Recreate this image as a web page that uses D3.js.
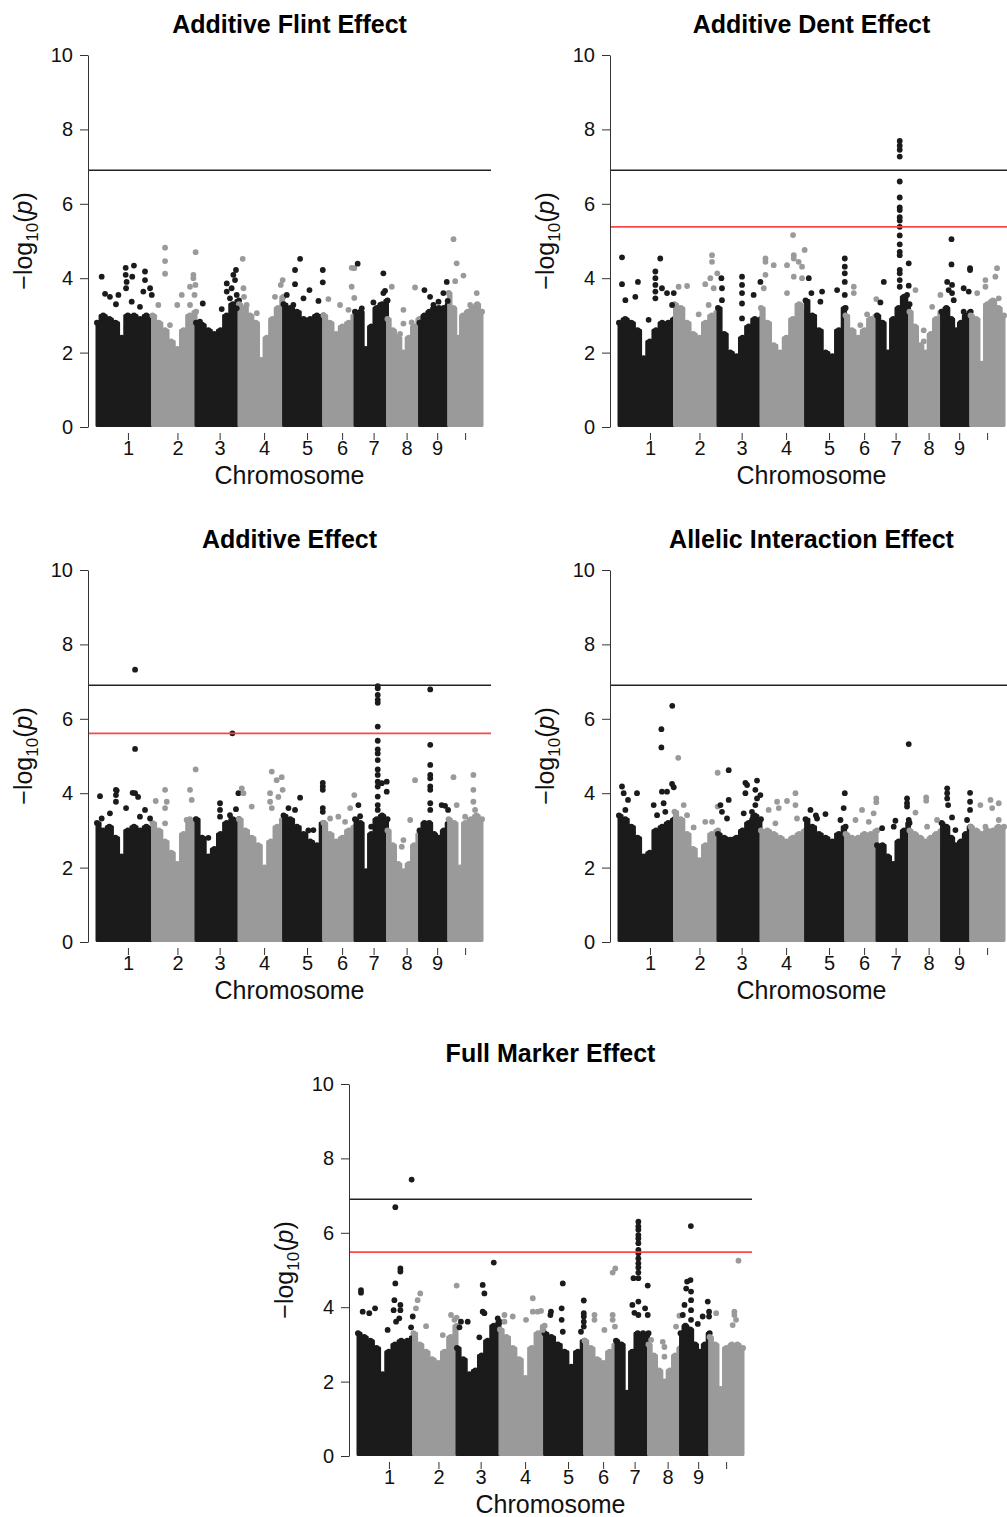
<!DOCTYPE html>
<html>
<head>
<meta charset="utf-8">
<script src="https://cdn.jsdelivr.net/npm/d3@7"></script>
<style>
  body { margin: 0; background: #fff; }
  text { font-family: "Liberation Sans", Arial, Helvetica, sans-serif; }
</style>
</head>
<body>
<script>
// chromosome layout (Mb)
var chrLabels = ["1", "2", "3", "4", "5", "6", "7", "8", "9", ""];
var chrLen = [296, 232, 229, 238, 213, 168, 173, 171, 155, 178];
var chrTick = [165, 133, 126, 134, 125, 99, 99, 102, 94, 88];
var yTicks = [0, 2, 4, 6, 8, 10];

var titles = ["Additive Flint Effect", "Additive Dent Effect", "Additive Effect",
              "Allelic Interaction Effect", "Full Marker Effect"];
var bonfLine = [6.9, 6.9, 6.9, 6.9, 6.9];
var redLine = [null, 5.38, 5.61, null, 5.48];

// upper edge of the dense point cloud, per chromosome, evenly spaced along it
var flintEnv = [
  [2.8, 3.0, 2.9, 2.8, 2.4, 3.0, 3.0, 2.9, 3.0, 2.9],
  [3.0, 2.8, 2.6, 2.3, 2.1, 2.6, 3.0, 3.1],
  [2.8, 2.75, 2.6, 2.5, 2.6, 3.0, 3.3, 3.4],
  [3.3, 3.2, 3.0, 2.8, 1.8, 2.4, 2.9, 3.2, 3.5],
  [3.3, 3.2, 3.1, 2.9, 2.9, 3.0, 3.0],
  [3.0, 2.8, 2.5, 2.7, 2.8, 3.0],
  [3.1, 3.1, 2.1, 2.7, 3.2, 3.3, 3.4],
  [2.9, 2.6, 2.4, 2.0, 2.4, 2.7, 2.9],
  [2.8, 3.0, 3.1, 3.2, 3.2, 3.2, 3.3],
  [3.6, 3.2, 2.4, 3.0, 3.1, 3.2, 3.3, 3.1]
];
var dentEnv = [
  [2.8, 2.9, 2.8, 2.6, 1.85, 2.3, 2.6, 2.8, 2.8, 2.9],
  [3.3, 3.2, 2.8, 2.5, 2.4, 2.8, 3.0, 3.1],
  [3.2, 2.5, 2.0, 1.9, 2.4, 2.7, 2.9, 2.9],
  [3.2, 2.8, 2.2, 2.0, 2.4, 2.9, 3.3, 3.1],
  [3.4, 3.0, 2.6, 2.0, 1.9, 2.6, 3.2],
  [3.0, 2.6, 2.4, 2.6, 2.9, 3.0],
  [3.0, 2.8, 2.0, 2.9, 3.2, 3.5, 3.3],
  [3.1, 2.7, 2.2, 2.0, 2.5, 2.9, 3.1],
  [3.1, 3.2, 2.9, 2.6, 2.8, 3.0, 3.1],
  [3.0, 2.9, 1.7, 3.3, 3.4, 3.2, 3.0]
];
var addEnv = [
  [3.2, 3.0, 3.1, 2.8, 2.3, 3.0, 3.1, 3.0, 3.1, 3.0],
  [3.2, 3.0, 2.7, 2.4, 2.1, 2.9, 3.3, 3.3],
  [3.3, 2.8, 2.3, 2.5, 2.9, 3.2, 3.3, 3.3],
  [3.3, 3.0, 2.8, 2.6, 2.0, 2.7, 3.1, 3.3],
  [3.4, 3.3, 3.1, 2.9, 2.7, 2.6, 3.2],
  [3.2, 2.9, 2.7, 2.8, 3.0, 3.1],
  [3.3, 3.2, 1.9, 2.9, 3.3, 3.4, 3.3],
  [3.0, 2.6, 2.1, 1.9, 2.1, 2.6, 2.9],
  [3.0, 3.2, 3.2, 2.9, 2.8, 3.0, 3.2],
  [3.3, 3.2, 2.0, 3.2, 3.3, 3.4, 3.3]
];
var allelicEnv = [
  [3.4, 3.3, 3.1, 2.8, 2.3, 2.4, 3.0, 3.1, 3.2, 3.3],
  [3.5, 3.3, 2.9, 2.5, 2.2, 2.6, 2.9, 3.0],
  [2.9, 2.8, 2.75, 2.8, 3.0, 3.2, 3.4, 3.3],
  [3.0, 3.0, 2.9, 2.8, 2.7, 2.8, 2.9, 3.0],
  [3.3, 3.1, 2.9, 2.8, 2.7, 2.9, 3.1],
  [2.9, 2.8, 2.8, 2.9, 2.9, 3.0],
  [2.6, 2.6, 2.3, 2.1, 2.7, 3.0, 3.2],
  [3.0, 2.9, 2.8, 2.7, 2.8, 2.9, 3.0],
  [3.2, 3.1, 2.8, 2.6, 2.7, 2.9, 3.1],
  [3.1, 3.0, 2.9, 3.0, 3.0, 3.1, 3.1]
];
var fullEnv = [
  [3.3, 3.2, 3.1, 2.9, 2.2, 2.8, 3.0, 3.1, 3.1, 3.2],
  [3.3, 3.0, 2.8, 2.6, 2.5, 2.8, 3.2, 3.5],
  [2.9, 2.6, 2.2, 2.3, 2.7, 3.1, 3.5, 3.6],
  [3.4, 3.2, 2.9, 2.6, 2.1, 2.9, 3.3, 3.5],
  [3.3, 3.2, 3.0, 2.8, 2.4, 2.8, 3.1],
  [3.1, 2.9, 2.6, 2.5, 2.8, 3.0],
  [3.1, 3.0, 1.7, 2.8, 3.3, 3.3, 3.3],
  [3.0, 2.7, 2.3, 2.0, 2.3, 2.7, 2.9],
  [3.3, 3.5, 3.4, 3.0, 2.8, 3.0, 3.3],
  [3.2, 3.0, 1.8, 2.9, 3.0, 3.0, 2.9]
];

// individual markers above the cloud: [cumulative position Mb, -log10(p)]
var flintDots = [
  [25,4.04],[43,3.58],[69,3.5],[114,3.55],[101,3.3],[153,4.28],[153,4.09],[188,4.04],[197,4.34],
  [155,3.73],[158,3.9],[256,4.18],[256,3.95],[283,3.73],[247,3.64],[185,3.37],[229,3.23],[292,3.55],
  [363,4.82],[363,4.46],[363,4.12],[526,4.7],[514,4.09],[514,4.0],[525,3.82],[496,3.77],[520,3.55],
  [452,3.55],[428,3.28],[389,2.74],[327,3.28],[496,3.28],
  [564,3.32],[549,2.83],[665,3.17],[692,3.86],[692,3.64],[709,3.46],[727,4.09],[741,4.22],[736,3.95],
  [718,3.73],[745,3.55],[745,3.19],
  [777,4.52],[781,3.73],[784,3.5],[798,3.28],[852,3.06],[949,3.5],[990,3.95],[980,3.82],
  [1083,4.52],[1056,4.22],[1056,3.84],[1012,3.55],[1133,3.68],[1204,4.22],[1204,3.89],[1181,3.39],
  [1101,3.46],[1047,3.28],
  [1358,4.28],[1372,4.27],[1358,3.77],[1372,3.47],[1296,3.28],[1341,3.15],[1234,3.44],
  [1390,4.39],[1527,4.13],[1527,3.6],[1536,3.66],[1474,3.35],[1510,3.28],[1412,3.19],
  [1572,3.77],[1634,3.15],[1696,3.75],[1678,2.81],[1634,2.78],[1616,2.5],
  [1746,3.68],[1776,3.5],[1847,3.6],[1865,3.9],[1794,3.28],[1821,3.37],[1870,3.39],
  [1901,5.05],[1918,4.4],[1954,4.07],[1910,3.92],[2025,3.6],[1990,3.28]
];
var dentDots = [
  [16,4.56],[16,3.84],[220,4.53],[101,3.9],[194,4.18],[194,4.0],[194,3.82],[194,3.64],[194,3.46],
  [34,3.41],[87,3.5],[229,3.73],[256,3.6],[292,3.6],[283,3.28],[158,2.88],
  [496,4.62],[496,4.44],[487,4.0],[460,3.84],[505,3.73],[524,4.13],[318,3.77],[363,3.79],[425,3.03],[478,3.28],
  [546,4.0],[549,3.73],[549,3.41],[656,4.04],[656,3.82],[656,3.6],[656,3.32],[754,3.9],[718,3.55],[656,2.92],
  [928,5.16],[932,4.62],[932,4.53],[990,4.76],[958,4.44],[976,4.31],[781,4.53],[781,4.44],[825,4.35],
  [896,4.35],[781,4.09],[932,4.04],[896,3.6],[772,3.73],[976,4.0],
  [1012,4.0],[1026,3.6],[1083,3.64],[1074,3.37],[1163,3.68],[1204,4.53],[1204,4.31],[1204,4.13],
  [1204,3.9],[1204,3.55],[1204,3.19],
  [1252,3.77],[1252,3.6],[1323,3.03],[1372,3.44],[1287,2.74],
  [1412,3.9],[1394,3.35],[1545,4.4],[1545,3.8],[1536,3.55],
  [1625,2.6],[1625,2.3],[1670,3.23],[1714,3.55],[1581,3.68],
  [1773,5.05],[1773,4.37],[1750,3.9],[1776,3.82],[1758,3.68],[1776,3.6],[1785,3.41],[1838,3.73],
  [1865,3.64],[1872,4.27],[1872,4.22],[1838,3.1],
  [2016,4.27],[2007,4.04],[1954,3.95],[1954,3.77],[1910,3.6],[2025,3.46],[1981,3.35]
];
var dentPeak7 = [7.69, 7.56, 7.45, 7.27, 6.6, 6.17, 5.9, 5.83, 5.64, 5.55, 5.38, 5.15, 4.91,
                 4.71, 4.62, 4.22, 4.13, 3.95, 3.77];
var addDots = [
  [203,7.32],[203,5.19],[105,4.07],[16,3.92],[203,4.0],[219,3.9],[101,4.09],[101,3.95],[101,3.77],
  [155,3.6],[190,4.01],[256,3.55],[283,3.32],[25,3.32],[69,3.46],[229,3.37],
  [363,4.09],[372,3.77],[363,3.6],[363,3.19],[313,3.79],[496,4.09],[526,4.64],[505,3.82],[478,3.28],
  [594,2.8],[656,3.73],[656,3.55],[656,3.37],[741,3.57],[754,4.0],[709,3.41],[722,5.61],
  [772,4.13],[781,4.0],[932,4.58],[985,4.43],[958,4.35],[923,4.0],[923,3.77],[932,3.6],[990,4.09],
  [967,3.9],[825,3.64],
  [1083,3.88],[1021,3.6],[1056,3.55],[1204,4.28],[1204,4.18],[1204,4.09],[1204,3.6],[1204,3.5],
  [1154,3.01],[1127,3.0],
  [1243,3.32],[1287,3.37],[1323,3.23],[1350,3.6],[1372,3.95],
  [1519,4.27],[1545,4.31],[1545,4.04],[1462,3.1],[1394,3.68],[1403,3.38],
  [1696,4.35],[1634,2.74],[1625,2.56],[1670,3.28],
  [1838,3.68],[1856,3.66],[1872,3.55],
  [1901,4.43],[2007,4.49],[2007,4.09],[2007,3.77],[2016,3.55],[1918,3.68],[1963,3.37]
];
var addPeak7 = [6.88, 6.82, 6.64, 6.51, 6.43, 5.79, 5.41, 5.18, 5.07, 4.89, 4.64, 4.49, 4.31,
                4.18, 3.91, 3.68, 3.55];
var addPeak9 = [6.79, 5.3, 4.76, 4.49, 4.4, 4.18, 4.09, 3.73, 3.55];
var allelicDots = [
  [226,5.72],[226,5.23],[284,6.35],[16,4.18],[25,4.0],[48,3.82],[96,4.0],[229,4.04],[283,4.25],
  [292,4.16],[185,3.68],[238,3.73],[247,3.5],[256,4.04],[203,3.41],[34,3.55],
  [316,4.95],[526,4.55],[345,3.68],[363,3.41],[398,3.08],[460,3.23],[496,3.23],[526,3.64],
  [585,4.62],[585,3.82],[541,3.68],[549,3.5],[576,3.32],[674,4.28],[683,4.22],[674,4.0],[736,4.34],
  [727,4.09],[736,3.86],[754,3.95],[727,3.68],[665,3.46],[709,3.5],[709,3.28],
  [941,4.0],[896,3.79],[843,3.77],[852,3.6],[798,3.55],[941,3.68],[949,3.32],[834,3.19],
  [1021,3.55],[1101,3.44],[1204,4.0],[1198,3.6],[1181,3.28],[1056,3.32],[1050,3.4],
  [1372,3.86],[1372,3.76],[1296,3.55],[1332,3.23],[1261,3.28],[1358,3.46],
  [1545,5.32],[1536,3.86],[1536,3.73],[1536,3.64],[1474,3.26],[1403,3.06],[1465,3.1],[1545,3.28],
  [1638,3.89],[1638,3.8],[1581,3.48],[1643,3.1],[1696,3.28],
  [1750,4.13],[1750,4.0],[1750,3.86],[1755,3.68],[1776,3.35],[1872,4.01],[1872,3.77],[1872,3.55],
  [1856,3.28],[1794,3.01],
  [1927,3.68],[1981,3.82],[2025,3.73],[2025,3.28],[1990,3.6],[1954,3.1]
];
var fullDots = [
  [16,4.46],[16,4.39],[226,5.04],[226,4.96],[199,4.64],[194,4.19],[226,4.06],[226,3.92],[190,3.92],
  [91,3.97],[60,3.84],[25,3.88],[220,3.7],[203,3.61],[283,3.46],[158,3.39],[199,6.69],[286,7.43],[292,3.75],
  [332,4.37],[318,4.19],[309,3.97],[363,3.49],[526,4.58],[496,3.79],[514,3.66],[526,3.72],[452,3.25],
  [724,5.2],[665,4.6],[674,4.37],[665,3.88],[674,3.84],[549,3.61],[585,3.61],[541,3.46],[647,3.19],[745,3.7],
  [932,4.24],[932,3.88],[958,3.88],[976,3.9],[781,3.79],[825,3.75],[781,3.61],[896,3.66],[985,3.39],
  [1092,4.64],[1086,3.97],[1029,3.88],[1026,3.79],[1086,3.66],[1092,3.34],[1204,4.18],[1204,3.84],
  [1204,3.75],[1204,3.61],[1204,3.48],[1189,3.34],
  [1358,4.93],[1372,5.04],[1261,3.79],[1261,3.66],[1358,3.79],[1358,3.66],[1314,3.39],[1370,3.48],
  [1469,4.78],[1463,4.06],[1545,4.58],[1531,3.97],[1545,3.79],[1474,3.85],
  [1625,3.07],[1634,2.93],[1714,3.77],[1696,3.48],[1563,3.12],[1634,2.67],
  [1773,4.73],[1755,4.69],[1750,4.5],[1776,4.42],[1776,4.19],[1776,3.92],[1741,4.06],[1776,3.66],
  [1732,3.79],[1865,4.15],[1872,3.88],[1872,3.75],[1838,3.75],[1812,3.55],[1775,6.18],
  [2029,5.25],[2007,3.88],[2007,3.79],[2016,3.66],[1998,3.52],[1910,3.84]
];
var fullPeak7 = [6.3, 6.17, 6.08, 5.94, 5.85, 5.72, 5.54, 5.45, 5.31, 5.18, 5.07, 4.93, 4.78, 4.15, 3.79];

var panels = [
  { env: flintEnv, dots: flintDots, ox: 0, oy: 0 },
  { env: dentEnv, dots: dentDots.concat(dentPeak7.map(function(v) { return [1497, v]; })), ox: 522, oy: 0 },
  { env: addEnv, dots: addDots.concat(addPeak7.map(function(v) { return [1497, v]; }),
                                     addPeak9.map(function(v) { return [1777, v]; })), ox: 0, oy: 515 },
  { env: allelicEnv, dots: allelicDots, ox: 522, oy: 515 },
  { env: fullEnv, dots: fullDots.concat(fullPeak7.map(function(v) { return [1495, v]; })), ox: 261, oy: 1029 }
];

var colors = ["#1b1b1b", "#9a9a9a"];
var starts = Array.from(d3.cumsum([0].concat(chrLen)));
var total = starts[starts.length - 1];

var svg = d3.select("body").append("svg")
    .attr("width", 1007)
    .attr("height", 1517);

var x = d3.scaleLinear().domain([0, total]).range([97, 482]);
var y = d3.scaleLinear().domain([0, 10]).range([427, 55]);
var plotLeft = 88, plotRight = 491;

var area = d3.area()
    .curve(d3.curveStep)
    .x(function(d) { return x(d[0]); })
    .y0(y(0) - 1.5)
    .y1(function(d) { return y(d[1]); });

function chrOf(pos) {
  return Math.max(0, Math.min(9, d3.bisectRight(starts, pos) - 1));
}

panels.forEach(function(p, k) {
  var g = svg.append("g").attr("transform", "translate(" + p.ox + "," + p.oy + ")");

  // dense cloud per chromosome
  p.env.forEach(function(vals, c) {
    var n = vals.length;
    var pts = vals.map(function(v, i) { return [starts[c] + chrLen[c] * i / (n - 1), v]; });
    g.append("path")
        .datum(pts)
        .attr("d", area)
        .attr("fill", colors[c % 2])
        .attr("stroke", colors[c % 2])
        .attr("stroke-width", 3)
        .attr("stroke-linejoin", "round");
    g.append("g").selectAll("circle")
      .data(pts)
      .enter().append("circle")
        .attr("cx", function(d) { return x(d[0]); })
        .attr("cy", function(d) { return y(d[1]); })
        .attr("r", 3)
        .attr("fill", colors[c % 2]);
  });

  g.append("g").selectAll("circle")
    .data(p.dots)
    .enter().append("circle")
      .attr("cx", function(d) { return x(d[0]); })
      .attr("cy", function(d) { return y(d[1]); })
      .attr("r", 2.9)
      .attr("fill", function(d) { return colors[chrOf(d[0]) % 2]; });

  // threshold lines
  g.append("line")
      .attr("x1", plotLeft).attr("x2", plotRight)
      .attr("y1", y(bonfLine[k])).attr("y2", y(bonfLine[k]))
      .attr("stroke", "#222").attr("stroke-width", 1.4);
  if (redLine[k] != null) {
    g.append("line")
        .attr("x1", plotLeft).attr("x2", plotRight)
        .attr("y1", y(redLine[k])).attr("y2", y(redLine[k]))
        .attr("stroke", "#ff4646").attr("stroke-width", 1.8);
  }

  // axes
  var ya = g.append("g")
      .attr("transform", "translate(" + plotLeft + ",0)")
      .call(d3.axisLeft(y).tickValues(yTicks).tickSize(8).tickSizeOuter(0).tickPadding(7));
  ya.selectAll("text").style("font-size", "20px").attr("fill", "#111");
  ya.selectAll("line,path").attr("stroke", "#333");

  var xa = g.append("g")
      .attr("transform", "translate(0,433)")
      .call(d3.axisBottom(x)
        .tickValues(chrTick.map(function(t, i) { return starts[i] + t; }))
        .tickFormat(function(d, i) { return chrLabels[i]; })
        .tickSize(7).tickPadding(1));
  xa.select(".domain").remove();
  xa.selectAll("text").style("font-size", "20px").attr("fill", "#111");
  xa.selectAll("line").attr("stroke", "#333");

  var cx = (plotLeft + plotRight) / 2;
  g.append("text")
      .attr("x", cx).attr("y", 33)
      .attr("text-anchor", "middle")
      .style("font-size", "25px").style("font-weight", "bold")
      .text(titles[k]);

  g.append("text")
      .attr("x", cx).attr("y", 484)
      .attr("text-anchor", "middle")
      .style("font-size", "25px")
      .attr("fill", "#111")
      .text("Chromosome");

  var yl = g.append("text")
      .attr("transform", "translate(32," + ((y(0) + y(10)) / 2) + ") rotate(-90)")
      .attr("text-anchor", "middle")
      .style("font-size", "25px")
      .attr("fill", "#111");
  yl.append("tspan").text("\u2212log");
  yl.append("tspan").attr("dy", 6).style("font-size", "17px").text("10");
  yl.append("tspan").attr("dy", -6).text("(");
  yl.append("tspan").style("font-style", "italic").text("p");
  yl.append("tspan").text(")");
});
</script>
</body>
</html>
